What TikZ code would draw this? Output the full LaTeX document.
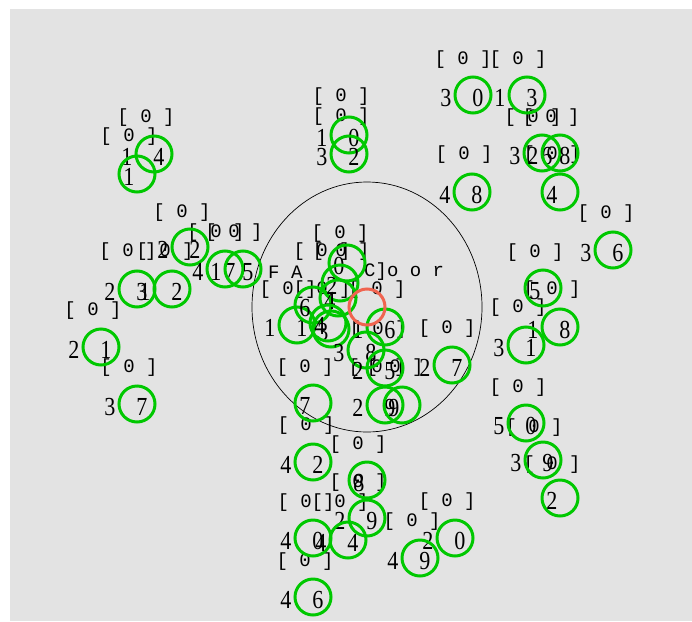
\documentclass[tikz,border=0pt]{standalone}
\usepackage{fontspec}
\setmainfont{Liberation Serif}[FakeStretch=0.85]
\newfontfamily\tagfont{Liberation Mono}
\definecolor{bggray}{RGB}{227,227,227}
\definecolor{ringgreen}{RGB}{0,200,0}
\definecolor{focusred}{RGB}{240,100,80}
\tikzset{
  ring/.style={draw=ringgreen, line width=3pt},
  idnum/.style={inner sep=0pt, font=\fontsize{26}{26}\selectfont},
  zerotag/.style={inner sep=0pt, font=\tagfont\fontsize{19}{19}\selectfont},
}
% agent with a two digit id: left digit outside, right digit inside the ring
\newcommand{\agent}[4]{%
  \draw[ring] (#1,#2) circle (18pt);
  \node[idnum] at (#1-27,#2+3) {#3};
  \node[idnum] at (#1+5,#2+3) {#4};
}
% agent with a one digit id
\newcommand{\loneagent}[3]{%
  \draw[ring] (#1,#2) circle (18pt);
  \node[idnum] at (#1-8,#2+3) {#3};
}
\begin{document}
\begin{tikzpicture}[x=1pt,y=-1pt]
    \useasboundingbox (0,0) rectangle (692,621);
    \fill[white] (0,0) rectangle (692,621);
    \fill[bggray] (10,9) rectangle (692,621);   % canvas

    % sensing range of the agent in focus
    \draw[black, line width=0.7pt] (367,307) ellipse [x radius=115pt, y radius=125pt];

    % state tags
    \foreach \x/\y in {146/118, 129/137, 182/213, 216/233, 234/233, 128/252, 165/252,
                       93/311, 129/368, 341/97, 341/117, 463/60, 518/60, 533/118,
                       551/118, 464/155, 552/155, 606/214, 535/253, 552/290, 518/308,
                       518/388, 534/428, 552/465, 340/234, 322/252, 341/252, 288/290,
                       322/290, 377/290, 378/330, 305/368, 377/368, 395/368, 447/329,
                       306/426, 358/445, 358/483, 306/503, 340/503, 447/502, 412/522,
                       305/562}
      \node[zerotag] at (\x,\y) {[ 0 ]};

    \node[zerotag, anchor=west] at (268,272) {F A};
    \node[zerotag, anchor=west] at (364,272) {C]o o r};

    % top left
    \agent{154}{154}{1}{4}
    \loneagent{137}{174}{1}
    % left
    \agent{190}{247}{2}{2}
    \agent{225}{269}{4}{7}
    \agent{243}{269}{1}{5}
    \agent{137}{289}{2}{3}
    \agent{172}{289}{1}{2}
    \agent{101}{347}{2}{1}
    \agent{137}{404}{3}{7}
    % top middle
    \agent{349}{135}{1}{0}
    \agent{349}{154}{3}{2}
    % top right
    \agent{473}{95}{3}{0}
    \agent{527}{95}{1}{3}
    \agent{542}{153}{3}{6}
    \agent{560}{153}{2}{8}
    \loneagent{560}{192}{4}
    \agent{472}{192}{4}{8}
    \agent{613}{250}{3}{6}
    % right
    \loneagent{543}{288}{5}
    \agent{560}{327}{1}{8}
    \agent{526}{345}{3}{1}
    \agent{526}{423}{5}{0}
    \agent{543}{460}{3}{9}
    \loneagent{560}{498}{2}
    % inside the range
    \agent{297}{325}{1}{1}
    \loneagent{331}{329}{3}
    \loneagent{313}{305}{6}
    \loneagent{347}{263}{0}
    \loneagent{340}{283}{2}
    \loneagent{338}{298}{4}
    \loneagent{328}{323}{4}
    \agent{385}{327}{1}{6}
    \agent{366}{350}{3}{8}
    \agent{385}{368}{2}{5}
    \agent{452}{365}{2}{7}
    \agent{385}{405}{2}{9}
    \loneagent{402}{405}{9}
    \loneagent{313}{403}{7}
    % bottom
    \agent{313}{462}{4}{2}
    \loneagent{367}{480}{8}
    \agent{367}{518}{2}{9}
    \agent{313}{538}{4}{0}
    \agent{348}{540}{4}{4}
    \agent{455}{538}{2}{0}
    \agent{420}{558}{4}{9}
    \agent{313}{597}{4}{6}

    % agent in focus
    \draw[draw=focusred, line width=3pt] (367,307) circle (18pt);
\end{tikzpicture}
\end{document}
